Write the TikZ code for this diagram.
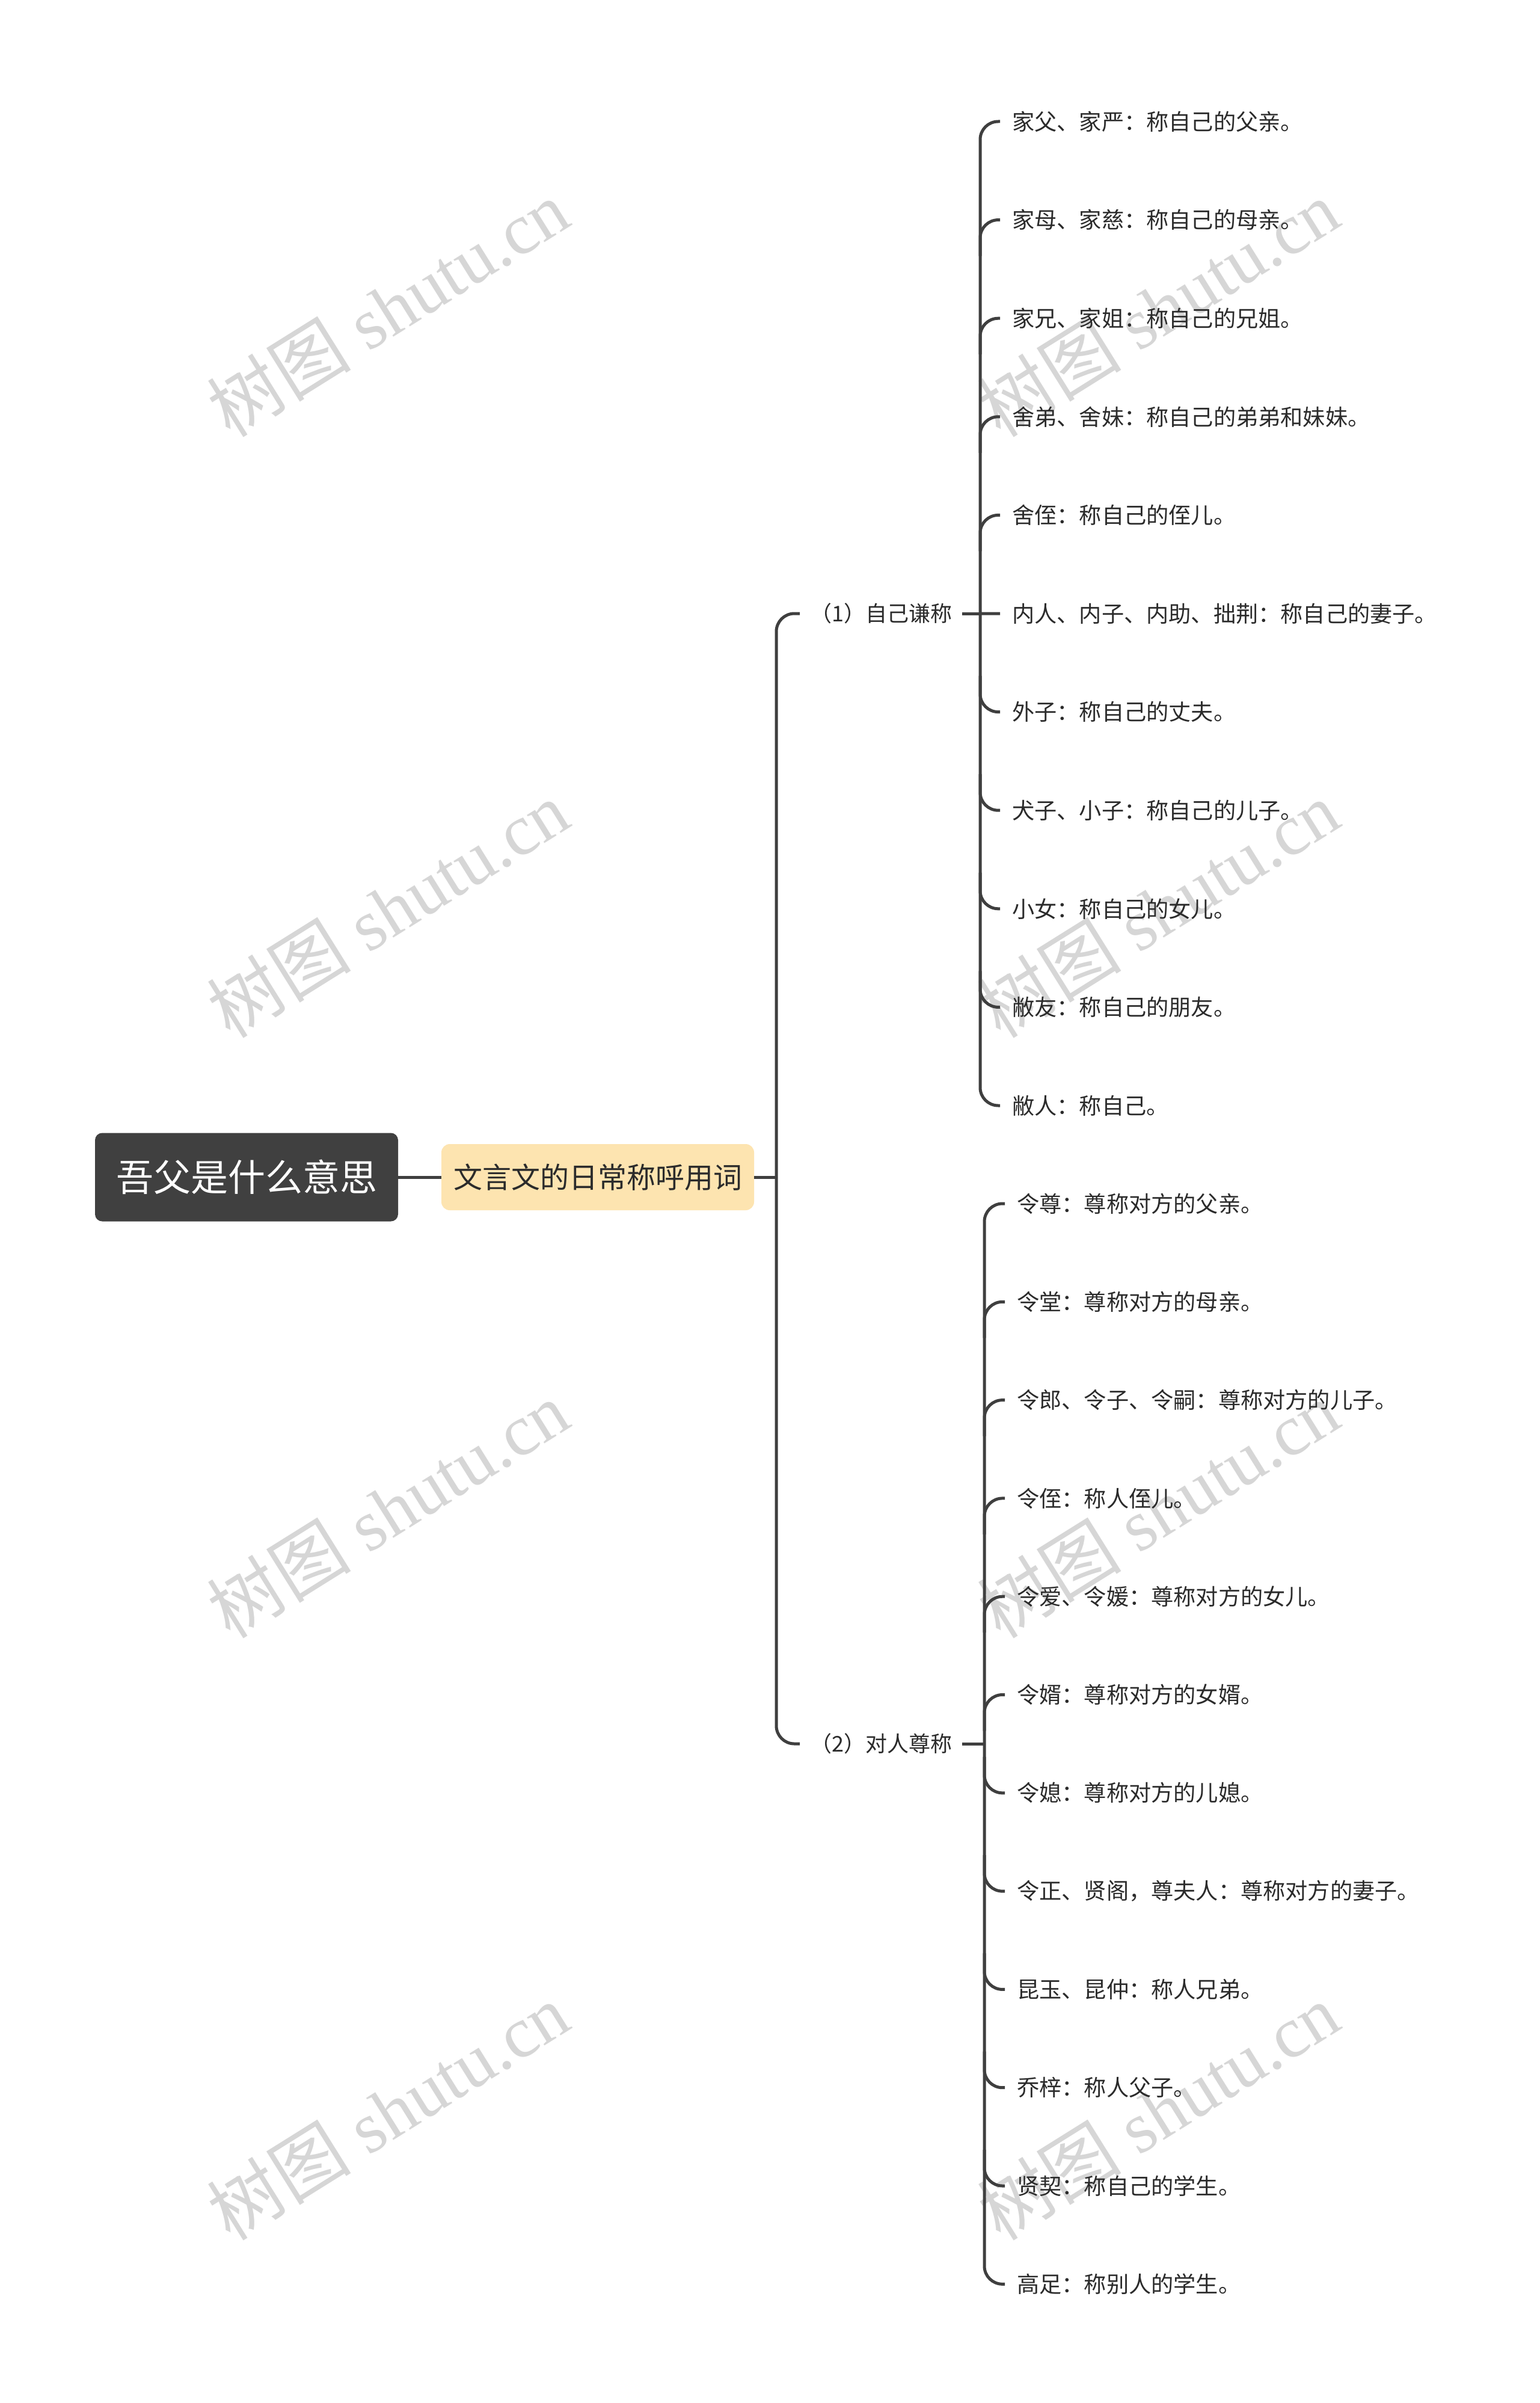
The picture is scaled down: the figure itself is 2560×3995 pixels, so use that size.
\documentclass[tikz,border=0pt]{standalone}
\usepackage{fontspec}
\setmainfont{Noto Sans CJK SC}
\newfontfamily\wmlatin{Liberation Serif}
\newfontfamily\wmcjk{Noto Sans CJK SC}
\usetikzlibrary{calc}
\definecolor{linec}{HTML}{3F3F3F}
\definecolor{textc}{HTML}{2B2B2B}
\definecolor{rootc}{HTML}{404040}
\definecolor{subc}{HTML}{FDE4B0}
\definecolor{wmc}{HTML}{D6D6D6}
\tikzset{
  linkline/.style={draw=linec, line width=5pt, rounded corners=30pt},
  rootbox/.style={fill=rootc, rounded corners=12pt, minimum width=504pt, minimum height=147pt, inner sep=0pt, text=white, font=\fontsize{62}{70}\selectfont},
  subbox/.style={fill=subc, rounded corners=14pt, minimum width=520pt, minimum height=110pt, inner sep=0pt, text=textc, font=\fontsize{48}{56}\selectfont},
  branchlbl/.style={anchor=west, inner xsep=17pt, inner ysep=4pt, text=textc, font=\fontsize{36}{42}\selectfont},
  leaf/.style={anchor=west, inner xsep=20pt, inner ysep=4pt, text=textc, font=\fontsize{37.2}{43}\selectfont},
  wm/.style={text=wmc, rotate=32, inner sep=0pt, font=\fontsize{120}{130}\selectfont}
}
\begin{document}
\begin{tikzpicture}[x=1pt,y=-1pt]
\useasboundingbox (0,0) rectangle (2560,3995);
\fill[white] (0,0) rectangle (2560,3995);

% watermarks
\foreach \k/\yy in {1/512,2/1511,3/2509,4/3510}{
  \node[wm] (wmL\k) at (645,\yy) {\wmcjk 树图\wmlatin{} shutu.cn};
  \node[wm] (wmR\k) at (1926,\yy) {\wmcjk 树图\wmlatin{} shutu.cn};
}

% main nodes
\node[rootbox] (root) at (410,1957) {吾父是什么意思};
\node[subbox] (sub) at (994,1957) {文言文的日常称呼用词};
\coordinate (t0) at (1291,1957);

\node[branchlbl] (b1) at (1330,1020) {（1）自己谦称};
\node[branchlbl] (b2) at (1330,2899) {（2）对人尊称};

\draw[linkline] (root.east) -- (sub.west);
\draw[linkline] (sub.east) -- (t0);
\draw[linkline] (t0) -- (t0 |- b1) -- (b1.west);
\draw[linkline] (t0) -- (t0 |- b2) -- (b2.west);

% group 1
\coordinate (s1) at (1630,1020);
\foreach \i/\t in {1/家父、家严：称自己的父亲。,2/家母、家慈：称自己的母亲。,3/家兄、家姐：称自己的兄姐。,4/舍弟、舍妹：称自己的弟弟和妹妹。,5/舍侄：称自己的侄儿。,6/内人、内子、内助、拙荆：称自己的妻子。,7/外子：称自己的丈夫。,8/犬子、小子：称自己的儿子。,9/小女：称自己的女儿。,10/敝友：称自己的朋友。,11/敝人：称自己。}{
  \node[leaf] (g1-\i) at (1663,{202+(\i-1)*163.6}) {\t};
}
\draw[linkline] (b1.east) -- (s1);
\draw[linkline] (g1-1.west) -- (s1 |- g1-1) -- (s1 |- g1-11) -- (g1-11.west);
\foreach \i in {2,...,5}{
  \draw[linkline] ($(s1 |- g1-\i)+(0,60)$) -- (s1 |- g1-\i) -- (g1-\i.west);
}
\draw[linkline] (s1) -- (g1-6.west);
\foreach \i in {7,...,10}{
  \draw[linkline] ($(s1 |- g1-\i)+(0,-60)$) -- (s1 |- g1-\i) -- (g1-\i.west);
}

% group 2
\coordinate (s2) at (1637,2899);
\foreach \i/\t in {1/令尊：尊称对方的父亲。,2/令堂：尊称对方的母亲。,3/令郎、令子、令嗣：尊称对方的儿子。,4/令侄：称人侄儿。,5/令爱、令媛：尊称对方的女儿。,6/令婿：尊称对方的女婿。,7/令媳：尊称对方的儿媳。,8/令正、贤阁，尊夫人：尊称对方的妻子。,9/昆玉、昆仲：称人兄弟。,10/乔梓：称人父子。,11/贤契：称自己的学生。,12/高足：称别人的学生。}{
  \node[leaf] (g2-\i) at (1671,{2001+(\i-1)*163.3}) {\t};
}
\draw[linkline] (b2.east) -- (s2);
\draw[linkline] (g2-1.west) -- (s2 |- g2-1) -- (s2 |- g2-12) -- (g2-12.west);
\foreach \i in {2,...,6}{
  \draw[linkline] ($(s2 |- g2-\i)+(0,60)$) -- (s2 |- g2-\i) -- (g2-\i.west);
}
\foreach \i in {7,...,11}{
  \draw[linkline] ($(s2 |- g2-\i)+(0,-60)$) -- (s2 |- g2-\i) -- (g2-\i.west);
}
\end{tikzpicture}
\end{document}
